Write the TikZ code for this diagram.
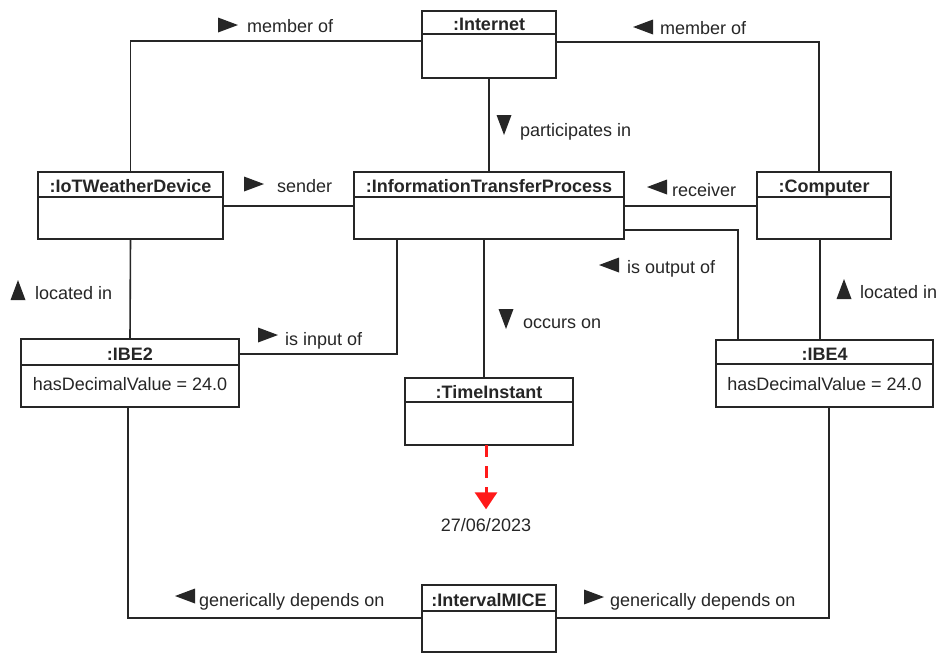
\documentclass[tikz,border=0pt]{standalone}
\usepackage{fontspec}
\setmainfont{Liberation Sans}
\usetikzlibrary{arrows.meta}
\definecolor{ink}{RGB}{38,38,38}
\definecolor{redarrow}{RGB}{255,25,25}
\tikzset{
  conn/.style={draw=ink, line width=1.6pt},
  objbox/.style={draw=ink, line width=1.6pt, fill=white, inner sep=0pt, outer sep=0pt},
  hdr/.style={font=\fontsize{18}{20}\selectfont\bfseries, text=ink, inner sep=0pt, text height=13pt, text depth=0pt},
  bodytxt/.style={font=\fontsize{18}{20}\selectfont, text=ink, inner sep=0pt, text height=13pt, text depth=0pt},
  lbl/.style={font=\fontsize{18}{20}\selectfont, text=ink, inner sep=0pt, anchor=west, text height=13pt, text depth=0pt},
  trimark/.style={fill=ink},
  reddash/.style={draw=redarrow, line width=3pt, dash pattern=on 12pt off 9pt, -{Triangle[width=22pt,length=17pt]}}
}
% name, x1, y1, x2, y2, ydiv, title
\newcommand{\umlobj}[7]{%
  \node[objbox, anchor=north west, minimum width={(#4-#2)*1pt}, minimum height={(#5-#3)*1pt}] (#1) at (#2,#3) {};
  \draw[conn] (#1.west |- 0,#6) -- (#1.east |- 0,#6);
  \node[hdr] (#1-t) at ({(#2+#4)/2},{(#3+#6)/2+1.5}) {#7};
}
% direction angle, x, y
\newcommand{\dirtri}[3]{%
  \fill[trimark, shift={(#2,#3)}, rotate=#1] (-10,-7.5) -- (10,0) -- (-10,7.5) -- cycle;
}
\begin{document}
\begin{tikzpicture}[x=1pt,y=-1pt]
\useasboundingbox (0,0) rectangle (939,656);
% objects
\umlobj{int}{422}{11}{556}{78}{34}{:Internet}
\umlobj{iot}{38}{172}{223}{239}{197}{:IoTWeatherDevice}
\umlobj{itp}{354}{172}{624}{239}{197}{:InformationTransferProcess}
\umlobj{comp}{757}{172}{891}{239}{197}{:Computer}
\umlobj{ibe2}{21}{339}{239}{407}{365}{:IBE2}
\node[bodytxt] (ibe2-b) at (130,383.5) {hasDecimalValue = 24.0};
\umlobj{ibe4}{716}{340}{933}{407}{364}{:IBE4}
\node[bodytxt] (ibe4-b) at (824.5,383.5) {hasDecimalValue = 24.0};
\umlobj{ti}{405}{378}{573}{445}{402}{:TimeInstant}
\umlobj{mice}{422}{585}{556}{652}{611}{:IntervalMICE}
\node[bodytxt] (date) at (486,525) {27/06/2023};

% connectors
\draw[conn] (int.west |- 0,41) -| (iot.north);
\draw[conn] (int.east |- 0,42) -| ([xshift=-5pt]comp.north);
\draw[conn] (int.south) -- (itp.north);
\draw[conn] (iot.east |- 0,206) -- (itp.west |- 0,206);
\draw[conn] (itp.east |- 0,206) -- (comp.west |- 0,206);
\draw[conn] (itp.east |- 0,230) -| (ibe4.north -| 738,0);
\draw[conn] (iot.south) -- (ibe2.north);
\draw[conn] (ibe2.east |- 0,354) -| (itp.south -| 397,0);
\draw[conn] ([xshift=-5pt]itp.south) -- ([xshift=-5pt]ti.north);
\draw[conn] ([xshift=-4pt]comp.south) -- (ibe4.north -| 820,0);
\draw[conn] ([xshift=-2pt]ibe2.south) |- (mice.west |- 0,618);
\draw[conn] ([xshift=4.5pt]ibe4.south) |- (mice.east |- 0,618);
\draw[reddash] ([xshift=-3pt]ti.south) -- ([xshift=0pt,yshift=9pt]date.north);

% labels
\dirtri{0}{228}{25}   \node[lbl] (l1) at (247,26) {member of};
\dirtri{180}{643}{27} \node[lbl] (l2) at (660,28) {member of};
\dirtri{-90}{504}{125} \node[lbl] (l3) at (520,130) {participates in};
\dirtri{0}{254}{184}  \node[lbl] (l4) at (277,186) {sender};
\dirtri{180}{657}{187} \node[lbl] (l5) at (672,190) {receiver};
\dirtri{90}{18}{290}  \node[lbl] (l6) at (35,293) {located in};
\dirtri{0}{268}{335}  \node[lbl] (l7) at (285,339) {is input of};
\dirtri{-90}{506}{319} \node[lbl] (l8) at (523,322) {occurs on};
\dirtri{180}{609}{265} \node[lbl] (l9) at (627,267) {is output of};
\dirtri{90}{844}{289} \node[lbl] (l10) at (860,292) {located in};
\dirtri{180}{185}{596} \node[lbl] (l11) at (199,600) {generically depends on};
\dirtri{0}{594}{597}  \node[lbl] (l12) at (610,600) {generically depends on};
\end{tikzpicture}
\end{document}
